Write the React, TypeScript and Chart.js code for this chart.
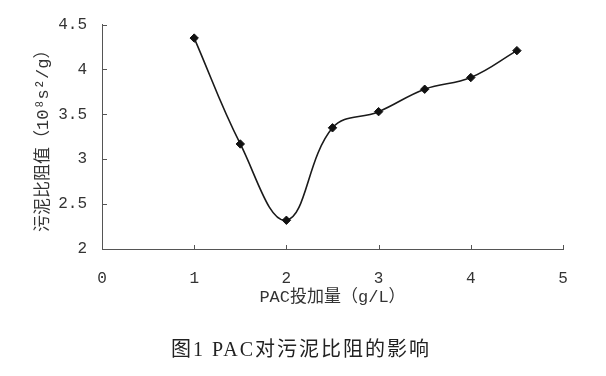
import React, { useEffect, useRef } from "react";
import { Chart, registerables } from "chart.js";

Chart.register(...registerables);

const doseValues = [1, 1.5, 2, 2.5, 3, 3.5, 4, 4.5];
const resistanceValues = [4.35, 3.17, 2.32, 3.35, 3.53, 3.78, 3.91, 4.21];
const xTickValues = [0, 1, 2, 3, 4, 5];
const yTickValues = [2, 2.5, 3, 3.5, 4, 4.5];
const xTitle = "PAC投加量（g/L）";
const yTitle = "污泥比阻值（10⁸s²/g）";
const caption = "图1 PAC对污泥比阻的影响";

const AXIS_COLOR = "#555";
const TEXT_COLOR = "#333";
const FONT_FAMILY = '"Liberation Mono", "Noto Sans CJK SC", monospace';

const innerTicks = {
  id: "innerTicks",
  afterDraw(chart: any) {
    const { ctx, chartArea, scales } = chart;
    ctx.save();
    ctx.strokeStyle = AXIS_COLOR;
    ctx.lineWidth = 1;
    ctx.beginPath();
    scales.y.ticks.forEach((t: any) => {
      if (t.value === yTickValues[0]) return;
      const y = Math.round(scales.y.getPixelForValue(t.value)) + 0.5;
      ctx.moveTo(chartArea.left, y);
      ctx.lineTo(chartArea.left + 5, y);
    });
    scales.x.ticks.forEach((t: any) => {
      if (t.value === xTickValues[0]) return;
      const x = Math.round(scales.x.getPixelForValue(t.value)) + 0.5;
      ctx.moveTo(x, chartArea.bottom);
      ctx.lineTo(x, chartArea.bottom - 4);
    });
    ctx.stroke();
    ctx.restore();
  },
};

export default function App() {
  const canvasRef = useRef<HTMLCanvasElement | null>(null);

  useEffect(() => {
    const canvas = canvasRef.current;
    if (!canvas) return;
    const chart = new Chart(canvas, {
      type: "line",
      data: {
        datasets: [
          {
            data: doseValues.map((x, i) => ({ x, y: resistanceValues[i] })),
            borderColor: "#1a1a1a",
            borderWidth: 1.6,
            tension: 0.4,
            pointStyle: "rectRot",
            pointRadius: 4.2,
            pointBackgroundColor: "#111",
            pointBorderColor: "#111",
            pointBorderWidth: 1,
            clip: false as any,
          },
        ],
      },
      options: {
        responsive: false,
        animation: false,
        devicePixelRatio: 1,
        layout: { padding: { left: 0, right: 43, top: 14, bottom: 0 } },
        plugins: {
          legend: { display: false },
          tooltip: { enabled: false },
        },
        scales: {
          x: {
            type: "linear",
            min: xTickValues[0],
            max: xTickValues[xTickValues.length - 1],
            afterBuildTicks: (scale: any) => {
              scale.ticks = xTickValues.map((v) => ({ value: v }));
            },
            afterFit: (scale: any) => {
              scale.height = 127;
            },
            grid: { display: true, drawOnChartArea: false, drawTicks: false },
            border: { display: true, color: AXIS_COLOR, width: 1 },
            ticks: {
              color: TEXT_COLOR,
              padding: 20,
              font: { family: FONT_FAMILY, size: 16 },
              callback: (v: any) => String(v),
            },
            title: {
              display: true,
              text: xTitle,
              color: TEXT_COLOR,
              font: { family: FONT_FAMILY, size: 17 },
              padding: { top: 0, bottom: 68 },
            },
          },
          y: {
            type: "linear",
            min: yTickValues[0],
            max: yTickValues[yTickValues.length - 1],
            afterBuildTicks: (scale: any) => {
              scale.ticks = yTickValues.map((v) => ({ value: v }));
            },
            afterFit: (scale: any) => {
              scale.width = 102;
            },
            grid: { display: true, drawOnChartArea: false, drawTicks: false },
            border: { display: true, color: AXIS_COLOR, width: 1 },
            ticks: {
              color: TEXT_COLOR,
              padding: 15,
              font: { family: FONT_FAMILY, size: 16 },
              callback: (v: any) => String(v),
            },
            title: {
              display: true,
              text: yTitle,
              color: TEXT_COLOR,
              font: { family: FONT_FAMILY, size: 17 },
              padding: { top: 33, bottom: 0 },
            },
          },
        },
      },
      plugins: [innerTicks],
    });
    return () => chart.destroy();
  }, []);

  return (
    <div style={{ position: "absolute", left: 0, top: 0, width: 606, height: 376, background: "#fff" }}>
      <canvas ref={canvasRef} width={606} height={376} style={{ display: "block" }} />
      <div
        style={{
          position: "absolute",
          left: 0,
          top: 336,
          width: 602,
          textAlign: "center",
          fontFamily: '"Liberation Serif", "Noto Sans CJK SC", serif',
          fontSize: 20,
          lineHeight: "26px",
          color: "#222",
          letterSpacing: 2,
        }}
      >
        {caption}
      </div>
    </div>
  );
}
